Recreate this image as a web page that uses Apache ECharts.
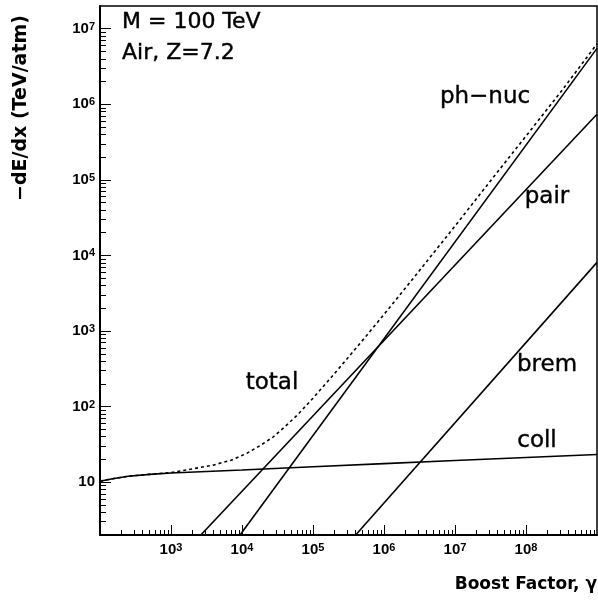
<!DOCTYPE html>
<html><head><meta charset="utf-8">
<script src="https://cdn.jsdelivr.net/npm/echarts@6/dist/echarts.min.js"></script>
<style>html,body{margin:0;padding:0;background:#fff}#c{width:598px;height:601px}</style>
</head><body><div id="c"></div>
<script>
// ---- data ----
const xMajorTicks = [1e3, 1e4, 1e5, 1e6, 1e7, 1e8];
const yMajorTicks = [10, 1e2, 1e3, 1e4, 1e5, 1e6, 1e7];

const collX = [100, 150, 250, 500, 1e3, 1e4, 1e5, 1e6, 1e7, 1e8, 1e9];
const collY = [10.3, 11.1, 12.0, 12.7, 13.2, 14.5, 16.0, 17.6, 19.4, 21.2, 23.2];

const pairX = [2630, 1e9];
const pairY = [2, 7.4e5];

const phnucX = [9380, 1e9];
const phnucY = [2, 5.5e6];

const bremX = [3.99e5, 1e9];
const bremY = [2, 8.1e3];

const totalX = [100, 150, 250, 500, 1e3, 2e3, 3.9e3, 7e3, 1.16e4, 1.8e4, 2.76e4, 4e4, 5.9e4, 1e5, 1.78e5, 3.16e5, 5.62e5, 1e6, 1.78e6, 3.16e6, 1e7, 3.16e7, 1e8, 3.16e8, 1e9];
const totalY = [10.3, 11.1, 12.0, 12.7, 13.4, 15.0, 16.8, 19.5, 24, 30.5, 39.8, 54, 75.9, 129, 240, 452, 861, 1660, 3230, 6310, 2.45e4, 9.7e4, 3.8e5, 1.5e6, 6.3e6];

// ---- helpers ----
function pairs(xs, ys) { return xs.map((x, i) => [x, ys[i]]); }
function minorTicks(lo, hi) {
  const out = [];
  for (let e = lo; e < hi; e++) for (let m = 2; m <= 9; m++) out.push(m * Math.pow(10, e));
  return out;
}
const xMinorTicks = minorTicks(2, 9);
const yMinorTicks = minorTicks(0, 8).filter(v => v > 2 && v < 2e7);

const tickFont = 'Liberation Sans';
function powLabel(v) {
  const e = Math.round(Math.log10(v));
  return e === 1 ? '{n|10}' : '{n|10}{s|' + e + '}';
}
const rich = {
  n: { fontFamily: tickFont, fontWeight: 'bold', fontSize: 15, lineHeight: 15, verticalAlign: 'bottom', color: '#000' },
  s: { fontFamily: tickFont, fontWeight: 'bold', fontSize: 11, lineHeight: 11, verticalAlign: 'top', padding: [0, 0, 6, 0], color: '#000' }
};

const lineW = 1.6;
function mkSeries(name, xs, ys, dashed) {
  return {
    name, type: 'line', data: pairs(xs, ys), showSymbol: false, symbol: 'none',
    clip: true, silent: true, animation: false, smooth: false,
    lineStyle: { color: '#000', width: lineW, type: dashed ? [3, 3] : 'solid' }
  };
}

const gridBox = { left: 100, right: 1, top: 6, bottom: 66 };

const option = {
  backgroundColor: '#fff',
  animation: false,
  grid: Object.assign({ show: true, borderColor: '#000', borderWidth: 1.5, backgroundColor: 'transparent' }, gridBox),
  xAxis: [
    {
      type: 'log', logBase: 10, min: 100, max: 1e9, position: 'bottom',
      axisLine: { show: true, lineStyle: { color: '#000', width: 2 } },
      axisTick: { show: true, inside: true, length: 10, customValues: xMajorTicks, lineStyle: { color: '#000', width: 1 } },
      axisLabel: { show: true, customValues: xMajorTicks, formatter: powLabel, rich, margin: 7 },
      splitLine: { show: false }, minorTick: { show: false }, minorSplitLine: { show: false }
    },
    {
      type: 'log', logBase: 10, min: 100, max: 1e9, position: 'bottom',
      axisLine: { show: false },
      axisTick: { show: true, inside: true, length: 5, customValues: xMinorTicks, lineStyle: { color: '#000', width: 1 } },
      axisLabel: { show: false },
      splitLine: { show: false }
    }
  ],
  yAxis: [
    {
      type: 'log', logBase: 10, min: 2, max: 2e7, position: 'left',
      axisLine: { show: true, lineStyle: { color: '#000', width: 2 } },
      axisTick: { show: true, inside: true, length: 11, customValues: yMajorTicks, lineStyle: { color: '#000', width: 1 } },
      axisLabel: { show: true, customValues: yMajorTicks, formatter: powLabel, rich, margin: 5 },
      splitLine: { show: false }
    },
    {
      type: 'log', logBase: 10, min: 2, max: 2e7, position: 'left',
      axisLine: { show: false },
      axisTick: { show: true, inside: true, length: 6, customValues: yMinorTicks, lineStyle: { color: '#000', width: 1 } },
      axisLabel: { show: false },
      splitLine: { show: false }
    }
  ],
  series: [
    mkSeries('coll', collX, collY, false),
    mkSeries('pair', pairX, pairY, false),
    mkSeries('ph-nuc', phnucX, phnucY, false),
    mkSeries('brem', bremX, bremY, false),
    mkSeries('total', totalX, totalY, true)
  ],
  graphic: [
    { type: 'text', x: 122, y: 33, style: { text: 'M = 100 TeV', font: '22px "DejaVu Sans"', fill: '#000', stroke: '#000', lineWidth: 0.4, textAlign: 'left', textVerticalAlign: 'bottom' } },
    { type: 'text', x: 122, y: 64, style: { text: 'Air, Z=7.2', font: '22px "DejaVu Sans"', fill: '#000', stroke: '#000', lineWidth: 0.4, textAlign: 'left', textVerticalAlign: 'bottom' } },
    { type: 'text', x: 485, y: 97, style: { text: 'ph\u2212nuc', font: '23px "DejaVu Sans"', fill: '#000', stroke: '#000', lineWidth: 0.4, textAlign: 'center', textVerticalAlign: 'middle' } },
    { type: 'text', x: 547, y: 197, style: { text: 'pair', font: '23px "DejaVu Sans"', fill: '#000', stroke: '#000', lineWidth: 0.4, textAlign: 'center', textVerticalAlign: 'middle' } },
    { type: 'text', x: 547, y: 365, style: { text: 'brem', font: '23px "DejaVu Sans"', fill: '#000', stroke: '#000', lineWidth: 0.4, textAlign: 'center', textVerticalAlign: 'middle' } },
    { type: 'text', x: 537, y: 441, style: { text: 'coll', font: '23px "DejaVu Sans"', fill: '#000', stroke: '#000', lineWidth: 0.4, textAlign: 'center', textVerticalAlign: 'middle' } },
    { type: 'text', x: 272, y: 383, style: { text: 'total', font: '23px "DejaVu Sans"', fill: '#000', stroke: '#000', lineWidth: 0.4, textAlign: 'center', textVerticalAlign: 'middle' } },
    { type: 'text', x: 597, y: 585, style: { text: 'Boost Factor, \u03b3', font: 'bold 17px "DejaVu Sans"', fill: '#000', textAlign: 'right', textVerticalAlign: 'middle' } },
    { type: 'text', x: 21, y: 108, rotation: Math.PI / 2, style: { text: '\u2212dE/dx (TeV/atm)', font: 'bold 19px "DejaVu Sans"', fill: '#000', textAlign: 'center', textVerticalAlign: 'middle' } }
  ]
};

const chart = echarts.init(document.getElementById('c'), null, { renderer: 'canvas' });
chart.setOption(option);
</script>
</body></html>
